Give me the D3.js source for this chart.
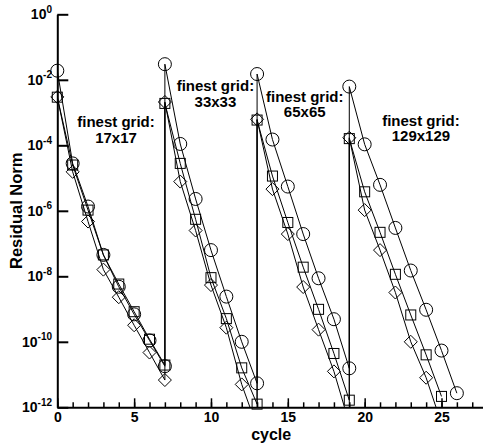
<!DOCTYPE html>
<html><head><meta charset="utf-8">
<script src="https://cdn.jsdelivr.net/npm/d3@7"></script>
<style>body{margin:0;background:#fff}svg{display:block}text{font-family:"Liberation Sans",Arial,Helvetica,sans-serif;font-weight:bold;fill:#000}</style>
</head><body><svg id="c" width="483" height="445"></svg>
<script>
// ---- data ----
const cyclesCircle = [0,1,2,3,4,5,6,7, 7,8,9,10,11,12,13, 13,14,15,16,17,18,19, 19,20,21,22,23,24,25,26];
const residCircle = [1.9e-2,2.8e-5,1.35e-6,4.5e-8,4.8e-9,6.9e-10,1.1e-10,1.8e-11,
  3.0e-2,1.1e-4,2.3e-6,6.3e-8,2.4e-9,1.0e-10,5.4e-12,
  1.5e-2,1.5e-4,5.5e-6,1.95e-7,8.7e-9,4.9e-10,1.55e-11,
  6.2e-3,1.07e-4,6.2e-6,3.0e-7,1.5e-8,9.5e-10,5.4e-11,2.7e-12];
const cyclesSquare = [0,1,2,3,4,5,6,7, 7,8,9,10,11,12,13, 13,14,15,16,17,18,19, 19,20,21,22,23,24,25];
const residSquare = [2.95e-3,2.5e-5,1.05e-6,4.5e-8,5.8e-9,8.3e-10,1.2e-10,1.95e-11,
  1.9e-3,2.8e-5,5.5e-7,9.1e-9,5.1e-10,1.6e-11,1.25e-12,
  5.9e-4,1.15e-5,4.4e-7,1.9e-8,9.8e-10,4.4e-11,1.65e-12,
  1.6e-4,3.8e-6,2.2e-7,1.15e-8,6.6e-10,4.0e-11,2.15e-12];
const cyclesDiamond = cyclesSquare;
const residDiamond = [3.0e-3,1.55e-5,4.7e-7,1.6e-8,2.3e-9,3.2e-10,4.7e-11,6.8e-12,
  2.1e-3,7.8e-6,2.5e-7,5.4e-9,2.7e-10,5.0e-12,2.5e-13,
  6.2e-4,4.6e-6,1.95e-7,4.7e-9,2.35e-10,1.25e-11,3.2e-13,
  1.7e-4,1.05e-6,6.3e-8,3.2e-9,1.0e-10,8.0e-12,3.2e-13];
const xMajorTicks = [0,5,10,15,20,25];
const xMinorTicks = d3.range(0,28);
const yTicks = [1e0,1e-2,1e-4,1e-6,1e-8,1e-10,1e-12];
const yTickExp = ["0","-2","-4","-6","-8","-10","-12"];
const annoGrid = ["17x17","33x33","65x65","129x129"];
const annoCycle = [3.82,10.29,16.1,23.66];
const annoResid = [3.5e-4,4.55e-3,2.17e-3,3.9e-4];

// ---- layout ----
const L=57.3, R=483, T=14.3, B=407.3;
const svg = d3.select("#c");
const x = d3.scaleLinear().domain([0,27.7]).range([L,R]);
const y = d3.scaleLog().domain([1e-12,1]).range([B,T]);

svg.append("defs").append("clipPath").attr("id","clip")
  .append("rect").attr("x",L).attr("y",T).attr("width",R-L).attr("height",B-T);

const series = [
  {c:cyclesCircle, v:residCircle, m:"circle"},
  {c:cyclesSquare, v:residSquare, m:"square"},
  {c:cyclesDiamond, v:residDiamond, m:"diamond"}
];
const line = d3.line().x(d=>x(d[0])).y(d=>y(d[1]));
const gLines = svg.append("g").attr("clip-path","url(#clip)");
series.forEach(s=>{
  const pts = s.c.map((c,i)=>[c,s.v[i]]);
  gLines.append("path").datum(pts).attr("d",line)
    .attr("fill","none").attr("stroke","#000").attr("stroke-width",1);
});
const gM = svg.append("g");
series.forEach(s=>{
  s.c.forEach((c,i)=>{
    const v = s.v[i]; if (v < 6e-13) return;
    const cx = x(c), cy = y(v);
    if (s.m==="circle") gM.append("circle").attr("cx",cx).attr("cy",cy).attr("r",6.5);
    else if (s.m==="square") gM.append("rect").attr("x",cx-5).attr("y",cy-5).attr("width",10).attr("height",10);
    else gM.append("path").attr("d",`M${cx},${cy-6.5}L${cx+6.5},${cy}L${cx},${cy+6.5}L${cx-6.5},${cy}Z`);
  });
});
gM.selectAll("*").attr("fill","none").attr("stroke","#000").attr("stroke-width",1);

// ---- axes ----
const gx = svg.append("g").attr("transform",`translate(0,${B})`);
gx.call(d3.axisBottom(x).tickValues(xMinorTicks).tickSize(-5).tickSizeOuter(0).tickFormat(""));
gx.select(".domain").remove();
gx.selectAll("line").attr("stroke","#000").attr("stroke-width",1.5);
const gx2 = svg.append("g").attr("transform",`translate(0,${B})`);
gx2.call(d3.axisBottom(x).tickValues(xMajorTicks).tickSize(-9).tickSizeOuter(0).tickPadding(4.5).tickFormat(d3.format("d")));
gx2.select(".domain").attr("stroke","#000").attr("stroke-width",2);
gx2.selectAll("line").attr("stroke","#000").attr("stroke-width",1.5);
gx2.selectAll("text").attr("font-size",14).attr("font-family",null).attr("fill","#000");

const gy = svg.append("g").attr("transform",`translate(${L},0)`);
gy.call(d3.axisLeft(y).tickValues(yTicks).tickSize(-11).tickSizeOuter(0).tickFormat(""));
gy.select(".domain").attr("stroke","#000").attr("stroke-width",2);
gy.selectAll("line").attr("stroke","#000").attr("stroke-width",2);
yTicks.forEach((t,i)=>{
  const tx = svg.append("text").attr("x",52).attr("y",y(t)+5).attr("text-anchor","end").attr("font-size",14);
  tx.append("tspan").text("10");
  tx.append("tspan").attr("dy",-6.5).attr("font-size",10).text(yTickExp[i]);
});

svg.append("text").attr("x",(L+R)/2+1).attr("y",440).attr("text-anchor","middle").attr("font-size",16).text("cycle");
svg.append("text").attr("transform",`translate(22,${(T+B)/2}) rotate(-90)`).attr("text-anchor","middle").attr("font-size",16.5).text("Residual Norm");

annoGrid.forEach((g,i)=>{
  const t = svg.append("text").attr("text-anchor","middle").attr("font-size",15);
  t.append("tspan").attr("x",x(annoCycle[i])).attr("y",y(annoResid[i])).text("finest grid:");
  t.append("tspan").attr("x",x(annoCycle[i])).attr("dy",15.5).text(g);
});
</script></body></html>
